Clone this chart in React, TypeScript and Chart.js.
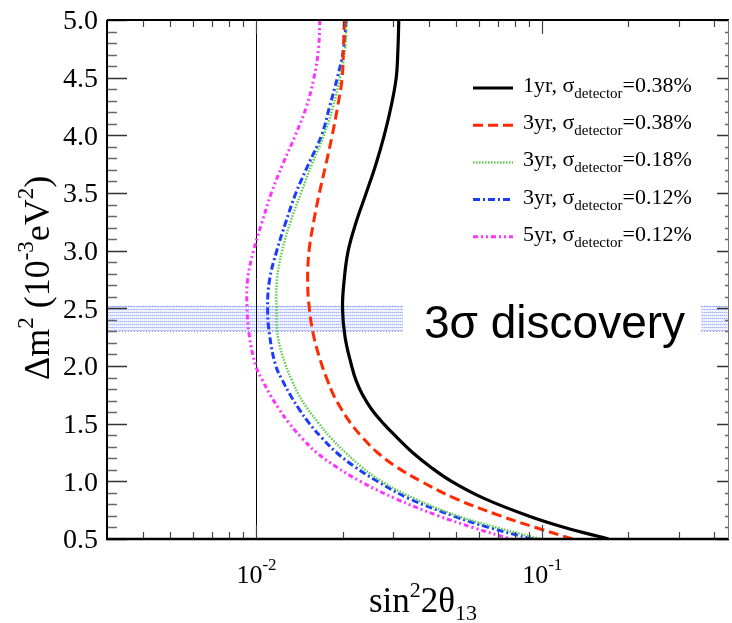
import React, { useEffect, useRef } from 'react';
import { Chart, registerables } from 'chart.js';

Chart.register(...registerables);

// Δm² values (10^-3 eV²) at which each contour is sampled
const dm2 = [5.0, 4.75, 4.5, 4.25, 4.0, 3.75, 3.5, 3.25, 3.0, 2.75, 2.5, 2.25, 2.0, 1.875, 1.75, 1.625, 1.5, 1.375, 1.25, 1.125, 1.0, 0.85, 0.7, 0.6, 0.5];

// sin²2θ13 sensitivity contours
const yr1Sigma038 = [0.03148, 0.03126, 0.03083, 0.02958, 0.02799, 0.02618, 0.02421, 0.02234, 0.02094, 0.02028, 0.02, 0.02042, 0.02153, 0.0223, 0.0235, 0.02527, 0.02783, 0.03116, 0.03516, 0.04064, 0.04814, 0.06281, 0.08954, 0.1197, 0.1706];
const yr3Sigma038 = [0.02032, 0.02014, 0.01995, 0.01923, 0.01841, 0.0175, 0.0166, 0.01585, 0.01528, 0.0151, 0.01531, 0.01589, 0.01698, 0.01772, 0.0186, 0.01984, 0.02142, 0.02359, 0.02648, 0.0309, 0.03766, 0.04972, 0.07145, 0.0947, 0.1276];
const yr3Sigma018 = [0.02065, 0.02042, 0.01959, 0.01854, 0.01722, 0.01563, 0.01432, 0.01315, 0.0123, 0.0118, 0.01175, 0.01189, 0.01268, 0.01331, 0.01406, 0.01514, 0.01656, 0.01823, 0.02049, 0.02331, 0.02739, 0.03573, 0.05053, 0.06918, 0.0986];
const yr3Sigma012 = [0.02061, 0.02018, 0.01919, 0.01803, 0.0169, 0.01521, 0.01374, 0.01268, 0.01178, 0.01112, 0.01094, 0.01114, 0.01169, 0.01233, 0.01312, 0.01411, 0.01533, 0.01696, 0.01905, 0.02212, 0.02652, 0.03425, 0.04887, 0.06508, 0.0925];
const yr5Sigma012 = [0.01667, 0.01648, 0.01589, 0.01496, 0.01368, 0.01236, 0.01127, 0.01047, 0.00977, 0.00931, 0.00927, 0.00946, 0.00995, 0.0105, 0.01117, 0.01201, 0.01305, 0.01443, 0.01622, 0.01905, 0.02308, 0.03066, 0.04335, 0.05715, 0.07745];

const legendYears = ['1yr', '3yr', '3yr', '3yr', '5yr'];
const legendSigmas = ['0.38%', '0.38%', '0.18%', '0.12%', '0.12%'];

const yTickValues = [0.5, 1.0, 1.5, 2.0, 2.5, 3.0, 3.5, 4.0, 4.5, 5.0];
const yTickLabels = ['0.5', '1.0', '1.5', '2.0', '2.5', '3.0', '3.5', '4.0', '4.5', '5.0'];
const xTickValues = [0.01, 0.1];
const xTickExponents = ['-2', '-1'];

const bandRange = [2.3, 2.52];
const bandText = '3σ discovery';
const refLineX = 0.01;

const X_MIN = 0.003;
const X_MAX = 0.45;
const Y_MIN = 0.5;
const Y_MAX = 5.0;

const SERIF = '"Liberation Serif", "DejaVu Serif", "Times New Roman", serif';
const SANS = '"Liberation Sans", Arial, Helvetica, sans-serif';

function makePattern(ctx: CanvasRenderingContext2D) {
  const c = document.createElement('canvas');
  c.width = 2;
  c.height = 3;
  const p = c.getContext('2d')!;
  p.fillStyle = 'rgba(222,228,255,0.5)';
  p.fillRect(0, 0, 2, 3);
  p.fillStyle = 'rgba(110,130,240,0.55)';
  p.fillRect(0, 0, 1, 1);
  p.fillStyle = 'rgba(175,188,250,0.45)';
  p.fillRect(1, 0, 1, 1);
  return ctx.createPattern(c, 'repeat')!;
}

function drawSeq(ctx: CanvasRenderingContext2D, parts: { t: string; size: number; dy: number }[], x0: number, y0: number) {
  let x = x0;
  for (const p of parts) {
    ctx.font = `${p.size}px ${SERIF}`;
    ctx.fillText(p.t, x, y0 + p.dy);
    x += ctx.measureText(p.t).width;
  }
  return x;
}

const decorPlugin = {
  id: 'decor',
  beforeDatasetsDraw(chart: any) {
    const { ctx, chartArea: a, scales } = chart;
    const x = scales.x;
    const y = scales.y;
    const yTop = y.getPixelForValue(bandRange[1]);
    const yBot = y.getPixelForValue(bandRange[0]);
    ctx.save();
    ctx.fillStyle = makePattern(ctx);
    ctx.fillRect(a.left, yTop, a.right - a.left, yBot - yTop);
    ctx.strokeStyle = 'rgba(80,100,235,0.7)';
    ctx.lineWidth = 1;
    ctx.setLineDash([1, 2]);
    for (const yy of [yTop, yBot]) {
      ctx.beginPath();
      ctx.moveTo(a.left, Math.round(yy) + 0.5);
      ctx.lineTo(a.right, Math.round(yy) + 0.5);
      ctx.stroke();
    }
    ctx.setLineDash([]);
    // reference vertical line
    const vx = Math.round(x.getPixelForValue(refLineX)) + 0.5;
    ctx.strokeStyle = '#000';
    ctx.lineWidth = 1;
    ctx.beginPath();
    ctx.moveTo(vx, a.top);
    ctx.lineTo(vx, a.bottom);
    ctx.stroke();
    ctx.restore();
  },
  afterDatasetsDraw(chart: any) {
    const { ctx, chartArea: a, scales } = chart;
    const x = scales.x;
    const y = scales.y;
    ctx.save();

    // band label with white box
    const yTop = y.getPixelForValue(bandRange[1]);
    const yBot = y.getPixelForValue(bandRange[0]);
    ctx.font = `46px ${SANS}`;
    const tw = ctx.measureText(bandText).width;
    const tx = 424;
    ctx.fillStyle = '#fff';
    ctx.fillRect(tx - 21, yTop - 4, tw + 21 + 16, yBot - yTop + 8);
    ctx.fillStyle = '#000';
    ctx.textBaseline = 'alphabetic';
    ctx.textAlign = 'left';
    ctx.fillText(bandText, tx, yBot + 7);

    // ticks
    ctx.lineWidth = 1.5;
    for (let i = 5; i <= 50; i++) {
      const v = i / 10;
      const py = Math.round(y.getPixelForValue(v)) + 0.5;
      const major = i % 5 === 0;
      ctx.strokeStyle = major ? '#333' : '#666';
      ctx.beginPath();
      ctx.moveTo(a.left, py);
      ctx.lineTo(a.left + (major ? 20 : 10), py);
      ctx.moveTo(a.right, py);
      ctx.lineTo(a.right - (major ? 12 : 4), py);
      ctx.stroke();
    }
    for (let d = -3; d <= -1; d++) {
      for (let m = 1; m <= 9; m++) {
        const v = m * Math.pow(10, d);
        if (v <= X_MIN * 1.001 || v >= X_MAX) continue;
        const px = Math.round(x.getPixelForValue(v)) + 0.5;
        const len = m === 1 ? 14 : 7;
        ctx.strokeStyle = '#444';
        ctx.lineWidth = 1.2;
        ctx.beginPath();
        ctx.moveTo(px, a.bottom);
        ctx.lineTo(px, a.bottom - len);
        ctx.moveTo(px, a.top);
        ctx.lineTo(px, a.top + len);
        ctx.stroke();
      }
    }

    // frame
    ctx.strokeStyle = '#000';
    ctx.lineWidth = 2;
    ctx.beginPath();
    ctx.moveTo(a.left, a.top);
    ctx.lineTo(a.right, a.top);
    ctx.moveTo(a.left, a.top);
    ctx.lineTo(a.left, a.bottom);
    ctx.stroke();
    ctx.lineWidth = 2.5;
    ctx.beginPath();
    ctx.moveTo(a.left - 1, a.bottom);
    ctx.lineTo(a.right, a.bottom);
    ctx.stroke();
    ctx.lineWidth = 1;
    ctx.strokeStyle = '#777';
    ctx.beginPath();
    ctx.moveTo(a.right - 0.5, a.top);
    ctx.lineTo(a.right - 0.5, a.bottom);
    ctx.stroke();

    // y tick labels
    ctx.fillStyle = '#000';
    ctx.font = `28px ${SERIF}`;
    ctx.textAlign = 'right';
    ctx.textBaseline = 'middle';
    yTickValues.forEach((v, i) => {
      ctx.fillText(yTickLabels[i], 98, y.getPixelForValue(v) + 2);
    });

    // x tick labels (10^n)
    ctx.textAlign = 'left';
    ctx.textBaseline = 'alphabetic';
    xTickValues.forEach((v, i) => {
      ctx.font = `26px ${SERIF}`;
      const w1 = ctx.measureText('10').width;
      ctx.font = `17px ${SERIF}`;
      const w2 = ctx.measureText(xTickExponents[i]).width;
      const cx = x.getPixelForValue(v);
      const sx = cx - (w1 + w2) / 2;
      drawSeq(ctx, [
        { t: '10', size: 26, dy: 0 },
        { t: xTickExponents[i], size: 17, dy: -13 },
      ], sx, 583);
    });

    // x axis title
    drawSeq(ctx, [
      { t: 'sin', size: 35, dy: 0 },
      { t: '2', size: 22, dy: -15 },
      { t: '2θ', size: 35, dy: 0 },
      { t: '13', size: 22, dy: 8 },
    ], 369, 612);

    // y axis title (rotated)
    ctx.save();
    ctx.translate(49, 380);
    ctx.rotate(-Math.PI / 2);
    drawSeq(ctx, [
      { t: 'Δm', size: 36, dy: 0 },
      { t: '2', size: 23, dy: -16 },
      { t: ' (10', size: 36, dy: 0 },
      { t: '-3', size: 23, dy: -16 },
      { t: 'eV', size: 36, dy: 0 },
      { t: '2', size: 23, dy: -16 },
      { t: ')', size: 36, dy: 0 },
    ], 0, 0);
    ctx.restore();

    // legend
    chart.data.datasets.forEach((ds: any, i: number) => {
      const ly = 88 + i * 37.2;
      ctx.strokeStyle = ds.borderColor;
      ctx.lineWidth = ds.borderWidth;
      ctx.setLineDash(ds.borderDash || []);
      ctx.beginPath();
      ctx.moveTo(473, ly);
      ctx.lineTo(513, ly);
      ctx.stroke();
      ctx.setLineDash([]);
      ctx.fillStyle = '#000';
      drawSeq(ctx, [
        { t: legendYears[i] + ',', size: 22, dy: 0 },
        { t: ' σ', size: 22, dy: 0 },
        { t: 'detector', size: 15, dy: 6 },
        { t: '=' + legendSigmas[i], size: 22, dy: 0 },
      ], 523, ly + 4);
    });

    ctx.restore();
  },
};

function toPoints(xs: number[]) {
  return xs.map((xv, i) => ({ x: xv, y: dm2[i] }));
}

export default function App() {
  const ref = useRef<HTMLCanvasElement | null>(null);
  useEffect(() => {
    if (!ref.current) return;
    const common = { pointRadius: 0, showLine: true, tension: 0.4, fill: false };
    const chart = new Chart(ref.current, {
      type: 'scatter',
      data: {
        datasets: [
          { ...common, label: '1yr, σdetector=0.38%', data: toPoints(yr1Sigma038), borderColor: '#000000', borderWidth: 3.2, borderDash: [] },
          { ...common, label: '3yr, σdetector=0.38%', data: toPoints(yr3Sigma038), borderColor: '#ff2a00', borderWidth: 3, borderDash: [10, 5] },
          { ...common, label: '3yr, σdetector=0.18%', data: toPoints(yr3Sigma018), borderColor: '#5fcc4c', borderWidth: 2.5, borderDash: [1.5, 1.5] },
          { ...common, label: '3yr, σdetector=0.12%', data: toPoints(yr3Sigma012), borderColor: '#1a3cff', borderWidth: 3, borderDash: [7, 3, 2, 3] },
          { ...common, label: '5yr, σdetector=0.12%', data: toPoints(yr5Sigma012), borderColor: '#ff33ff', borderWidth: 3, borderDash: [5, 3, 2, 3, 2, 3] },
        ] as any,
      },
      options: {
        animation: false,
        responsive: false,
        devicePixelRatio: 1,
        events: [],
        layout: { padding: { left: 107, top: 20, right: 3, bottom: 84 } },
        plugins: { legend: { display: false }, tooltip: { enabled: false }, title: { display: false } },
        scales: {
          x: { type: 'logarithmic', min: X_MIN, max: X_MAX, display: false },
          y: { type: 'linear', min: Y_MIN, max: Y_MAX, display: false },
        },
      } as any,
      plugins: [decorPlugin],
    });
    return () => chart.destroy();
  }, []);
  return (
    <div style={{ position: 'absolute', left: 0, top: 0, width: 732, height: 623, background: '#fff' }}>
      <canvas ref={ref} width={732} height={623} style={{ display: 'block' }} />
    </div>
  );
}
